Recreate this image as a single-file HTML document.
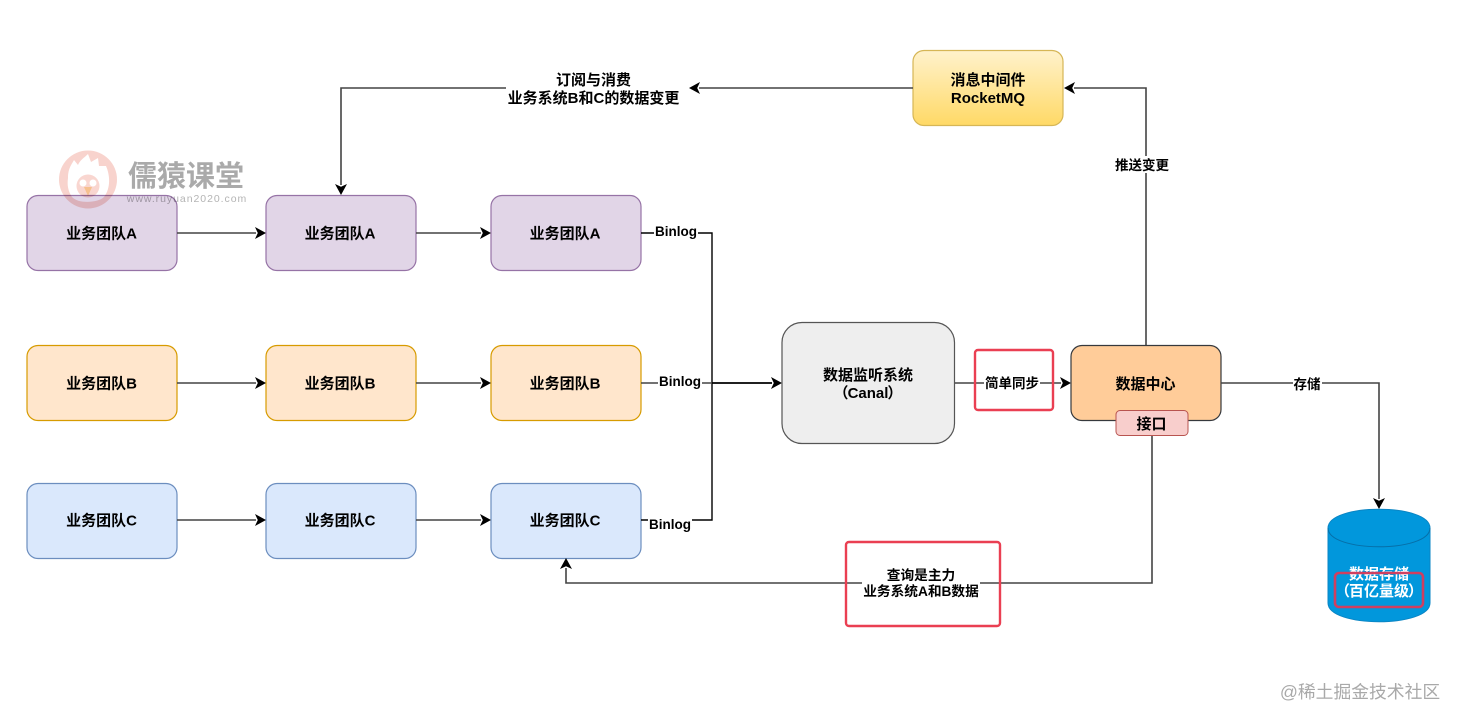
<!DOCTYPE html>
<html>
<head>
<meta charset="utf-8">
<style>
html,body{margin:0;padding:0;background:#fff;width:1460px;height:723px;overflow:hidden}
svg{display:block}
text{font-family:"Liberation Sans","Noto Sans CJK SC",sans-serif;font-weight:bold;font-size:15px;text-anchor:middle;fill:#000}
.l{fill:none;stroke:#444;stroke-width:1.6}
.k{fill:none;stroke:#000;stroke-width:1.4}
.a{fill:#000}
.bg{fill:#fff}
.wm{mix-blend-mode:multiply}
</style>
</head>
<body>
<svg width="1460" height="723" viewBox="0 0 1460 723" xmlns="http://www.w3.org/2000/svg">
<defs>
<linearGradient id="y" x1="0" y1="0" x2="0" y2="1"><stop offset="0" stop-color="#fff2cc"/><stop offset="1" stop-color="#ffd966"/></linearGradient>
</defs>

<!-- boxes row A -->
<g fill="#e1d5e7" stroke="#9673a6" stroke-width="1.2">
<rect x="27" y="195.500" width="150" height="75" rx="11"/>
<rect x="266" y="195.500" width="150" height="75" rx="11"/>
<rect x="491" y="195.500" width="150" height="75" rx="11"/>
</g>
<!-- boxes row B -->
<g fill="#ffe6cc" stroke="#d79b00" stroke-width="1.2">
<rect x="27" y="345.500" width="150" height="75" rx="11"/>
<rect x="266" y="345.500" width="150" height="75" rx="11"/>
<rect x="491" y="345.500" width="150" height="75" rx="11"/>
</g>
<!-- boxes row C -->
<g fill="#dae8fc" stroke="#6c8ebf" stroke-width="1.2">
<rect x="27" y="483.500" width="150" height="75" rx="11"/>
<rect x="266" y="483.500" width="150" height="75" rx="11"/>
<rect x="491" y="483.500" width="150" height="75" rx="11"/>
</g>

<!-- watermark -->
<g class="wm">
<circle cx="88" cy="179.500" r="29" fill="#f8d3cd"/>
<path d="M68 178 C68 168 72 164 74 160 L78 165 C80 160 84 158 88 154 L91 162 L98 158 L99 166 L106 166 C110 175 111 188 104 197 C98 203 78 204 72 197 C68 191 67 185 68 178Z" fill="#fff"/>
<circle cx="88" cy="186" r="11.500" fill="#f9d6d0"/>
<circle cx="83" cy="183" r="3.500" fill="#fff"/>
<circle cx="93" cy="183" r="3.500" fill="#fff"/>
<path d="M84 187h8l-4 9z" fill="#f6c08f"/>
<text x="186" y="186" style="font-size:29px;fill:#aaaaaa">儒猿课堂</text>
<text x="187" y="202" style="font-size:10.500px;fill:#b4b4b4;letter-spacing:.95px;font-weight:normal">www.ruyuan2020.com</text>
</g>

<!-- horizontal arrows -->
<path class="l" d="M177 233H256M416 233H481M177 383H256M416 383H481M177 520H256M416 520H481"/>
<g class="a">
<path d="M266 233l-11-6 2.800 6-2.800 6z"/><path d="M491 233l-11-6 2.800 6-2.800 6z"/>
<path d="M266 383l-11-6 2.800 6-2.800 6z"/><path d="M491 383l-11-6 2.800 6-2.800 6z"/>
<path d="M266 520l-11-6 2.800 6-2.800 6z"/><path d="M491 520l-11-6 2.800 6-2.800 6z"/>
</g>

<!-- binlog -->
<path class="k" d="M641 233H712V520H641"/>
<path class="l" d="M641 383H712"/>
<path class="k" d="M712 383H772" style="stroke-width:1.800"/>
<path class="a" d="M782 383l-11-6 2.800 6-2.800 6z"/>
<rect class="bg" x="654" y="224" width="44" height="16"/>
<rect class="bg" x="658" y="374" width="44" height="16"/>
<rect class="bg" x="648" y="516" width="44" height="16"/>
<text x="676" y="236" style="font-size:13.500px">Binlog</text>
<text x="680" y="386" style="font-size:13.500px">Binlog</text>
<text x="670" y="529" style="font-size:13.500px">Binlog</text>

<!-- canal -->
<rect x="782" y="322.500" width="172.500" height="121" rx="20" fill="#eeeeee" stroke="#555" stroke-width="1.200"/>
<text x="868" y="380">数据监听系统</text>
<text x="868" y="398">（<tspan dx="-1">Canal</tspan><tspan dx="-1">）</tspan></text>

<!-- simple sync -->
<path class="l" d="M955 383H1061"/>
<path class="a" d="M1071 383l-11-6 2.800 6-2.800 6z"/>
<rect x="975" y="350" width="78" height="60" rx="3" fill="none" stroke="#ea3f52" stroke-width="2.400"/>
<rect class="bg" x="984" y="375" width="56" height="16"/>
<text x="1012" y="388" style="font-size:13.500px">简单同步</text>

<!-- data center -->
<path class="l" d="M1146 346V88H1074"/>
<path class="a" d="M1064 88l11-6-2.800 6 2.800 6z"/>
<rect x="1071" y="345.500" width="150" height="75" rx="11" fill="#ffcc99" stroke="#36393d" stroke-width="1.200"/>
<text x="1145.500" y="389">数据中心</text>
<rect x="1116" y="410.500" width="72" height="25" rx="4" fill="#f8cecc" stroke="#b85450" stroke-width="1"/>
<text x="1151.500" y="429">接口</text>

<!-- push change -->
<rect class="bg" x="1114" y="156" width="57" height="17"/>
<text x="1142" y="170" style="font-size:13.500px">推送变更</text>

<!-- MQ -->
<rect x="913" y="50.500" width="150" height="75" rx="11" fill="url(#y)" stroke="#d6b656" stroke-width="1.200"/>
<text x="988" y="85">消息中间件</text>
<text x="988" y="103">RocketMQ</text>

<!-- subscribe -->
<path class="l" d="M913 88H699"/>
<path class="a" d="M689 88l11-6-2.800 6 2.800 6z"/>
<path class="l" d="M508 88H341V185"/>
<path class="a" d="M341 195l-6-11 6 2.800 6-2.800z"/>
<rect class="bg" x="506" y="70" width="176" height="38"/>
<text x="593.500" y="85">订阅与消费</text>
<text x="593.500" y="103">业务系统B和C的数据变更</text>

<!-- storage -->
<path class="l" d="M1221 383H1379V499"/>
<path class="a" d="M1379 509l-6-11 6 2.800 6-2.800z"/>
<rect class="bg" x="1293" y="375" width="29" height="17"/>
<text x="1307" y="389" style="font-size:13.500px">存储</text>

<!-- cylinder -->
<path d="M1328 528C1328 503 1430 503 1430 528V603C1430 628 1328 628 1328 603Z" fill="#0197dc" stroke="#0a85c4" stroke-width="1"/>
<path d="M1328 528C1328 553 1430 553 1430 528" fill="none" stroke="#066fa8" stroke-width="1"/>
<text x="1379" y="579" style="fill:#fff">数据存储</text>
<text x="1379" y="596" style="fill:#fff">（<tspan dx="-1">百亿量级</tspan><tspan dx="-1">）</tspan></text>
<rect x="1335" y="573" width="88" height="34" rx="4" fill="none" stroke="#cf3f60" stroke-width="2.600"/>

<!-- query -->
<path class="l" d="M1152 436V583H566V568"/>
<path class="a" d="M566 558l-6 11 6-2.800 6 2.800z"/>
<rect x="846" y="542" width="154" height="84" rx="3" fill="none" stroke="#ea3f52" stroke-width="2.400"/>
<rect class="bg" x="862" y="568" width="118" height="34"/>
<text x="921" y="580" style="font-size:13.700px">查询是主力</text>
<text x="921" y="596" style="font-size:13.700px">业务系统A和B数据</text>

<!-- box labels -->
<text x="101.500" y="238.500">业务团队A</text>
<text x="340" y="238.500">业务团队A</text>
<text x="565" y="238.500">业务团队A</text>
<text x="101.500" y="388.500">业务团队B</text>
<text x="340" y="388.500">业务团队B</text>
<text x="565" y="388.500">业务团队B</text>
<text x="101.500" y="525.500">业务团队C</text>
<text x="340" y="525.500">业务团队C</text>
<text x="565" y="525.500">业务团队C</text>

<!-- bottom right watermark -->
<text x="1360" y="698" style="font-size:17.800px;font-weight:normal;fill:#a9a9a9">@稀土掘金技术社区</text>
</svg>
</body>
</html>
